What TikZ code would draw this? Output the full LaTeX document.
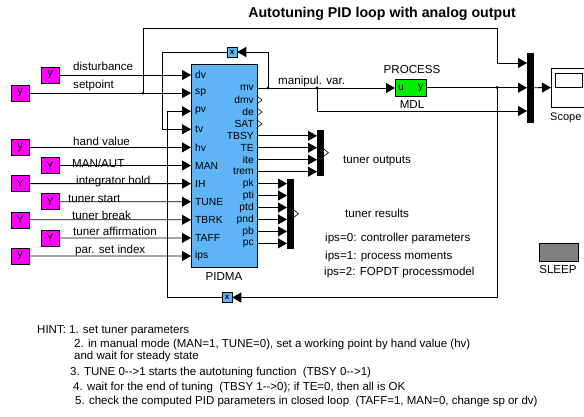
\documentclass[tikz,border=0pt]{standalone}
\usepackage{fontspec}
\setmainfont{Liberation Sans}
\usetikzlibrary{arrows.meta}
\definecolor{srcmag}{RGB}{255,0,255}
\definecolor{blkblue}{RGB}{95,180,245}
\definecolor{procgreen}{RGB}{0,240,0}
\definecolor{sleepgray}{RGB}{128,128,128}
\newcommand\mychev[1]{\draw[line width=0.6pt] (#1) ++(0,-4) -- ++(5,4) -- ++(-5,4);}
\begin{document}
\begin{tikzpicture}[x=1pt,y=-1pt,
  sig/.style={draw=black, line width=0.8pt, -{Triangle[length=9pt,width=10pt]}},
  wire/.style={draw=black, line width=0.8pt},
  src/.style={draw=black, line width=0.5pt, fill=srcmag, minimum width=18pt, minimum height=16pt, inner sep=0pt, font=\fontsize{11}{11}\selectfont},
  lbl/.style={anchor=base west, inner sep=0pt, font=\fontsize{11.6}{12}\selectfont},
  clbl/.style={inner sep=0pt, font=\fontsize{11.6}{12}\selectfont},
  hint/.style={anchor=base west, inner sep=0pt, font=\fontsize{11.5}{12}\selectfont},
  port/.style={inner sep=0pt, font=\fontsize{10.3}{10}\selectfont},
  muxbar/.style={fill=black, draw=black, inner sep=0pt, minimum width=6pt, anchor=north west},
  xblk/.style={draw=black, line width=0.5pt, fill=blkblue, minimum width=10pt, minimum height=10pt, inner sep=0pt, font=\fontsize{8}{8}\bfseries\selectfont},
  dot/.style={fill=black}
]
\useasboundingbox (0,0) rectangle (584,416);
\fill[white] (0,0) rectangle (584,416);

% title
\node[inner sep=0pt, font=\bfseries\fontsize{14.2}{15}\selectfont] (title) at (382,14) {Autotuning PID loop with analog output};

% main block
\node[draw=black, line width=0.5pt, fill=blkblue, minimum width=66pt, minimum height=203pt, inner sep=0pt, anchor=north west] (pid) at (191,64) {};
\node[clbl] (pidlbl) at (224,277) {PIDMA};
\foreach \n [count=\i from 0] in {dv,sp,pv,tv,hv,MAN,IH,TUNE,TBRK,TAFF,ips} {
  \pgfmathsetmacro\yy{75+18.1*\i}
  \coordinate (in\i) at (191,\yy);
  \node[port, anchor=west] (inl\i) at (195,\yy) {\n};
}
\foreach \n [count=\j from 0] in {mv,dmv,de,SAT,TBSY,TE,ite,trem,pk,pti,ptd,pnd,pb,pc} {
  \pgfmathsetmacro\yy{88+11.95*\j}
  \coordinate (out\j) at (257,\yy);
  \node[port, anchor=east] (outl\j) at (254,\yy) {\n};
}

% sources
\node[src] (s0) at (50,75) {y};
\node[src] (s1) at (20,93.1) {y};
\node[src] (s4) at (20,147.4) {y};
\node[src] (s5) at (50,165.5) {Y};
\node[src] (s6) at (20,183.6) {Y};
\node[src] (s7) at (50,201.7) {Y};
\node[src] (s8) at (20,219.8) {Y};
\node[src] (s9) at (50,237.9) {Y};
\node[src] (s10) at (20,256) {y};
\foreach \k in {0,1,4,5,6,7,8,9,10} {
  \draw[sig] (s\k.east) -- (in\k);
}
\node[lbl] (t0) at (73,70) {disturbance};
\node[lbl] (t1) at (73,88) {setpoint};
\node[lbl] (t4) at (73,145) {hand value};
\node[lbl] (t5) at (72,167) {MAN/AUT};
\node[lbl] (t6) at (76,184) {integrator hold};
\node[lbl] (t7) at (68,202) {tuner start};
\node[lbl] (t8) at (72,219) {tuner break};
\node[lbl] (t9) at (73,235) {tuner affirmation};
\node[lbl] (t10) at (75,253) {par. set index};

% multiplier blocks
\node[xblk] (x1) at (232,52) {x};
\node[xblk] (x2) at (227,297.5) {x};

% process
\node[draw=black, line width=0.5pt, fill=procgreen, minimum width=31pt, minimum height=17pt, inner sep=0pt, anchor=north west] (proc) at (395,79) {};
\node[port, anchor=west] (procu) at ([xshift=3pt]proc.west) {u};
\node[port, anchor=east] (procy) at ([xshift=-3pt]proc.east) {y};
\node[clbl] (proclbl) at (412,70) {PROCESS};
\node[clbl] (procmdl) at (412,105) {MDL};
\node[lbl] (mvlbl) at (278,84) {manipul. var.};

% muxes
\node[muxbar, minimum height=69pt] (mux3) at (527,53) {};
\node[muxbar, minimum height=45pt] (mux1) at (317,130) {};
\node[muxbar, minimum height=69pt] (mux2) at (287,179) {};

% scope
\begin{scope}
\clip (0,0) rectangle (584,416);
\draw[line width=0.6pt] (600,68) -- (551,68) -- (551,107) -- (600,107);
\draw[line width=0.6pt] (555,73) rectangle (582,87);
\end{scope}
\coordinate (scopein) at (551,87.5);
\node[anchor=base west, inner sep=0pt, font=\fontsize{11}{12}\selectfont] (scopelbl) at (550,120) {Scope};

% sleep
\node[draw=black, line width=0.5pt, fill=sleepgray, minimum width=39pt, minimum height=18pt, inner sep=0pt, anchor=north west] (sleep) at (539,243) {};
\node[clbl] (sleeplbl) at (558,270) {SLEEP};

% texts
\node[lbl] (tout) at (343,163) {tuner outputs};
\node[lbl] (tres) at (345,217) {tuner results};
\node[lbl] (ips0) at (325,241) {ips=0: controller parameters};
\node[lbl] (ips1) at (325,259) {ips=1: process moments};
\node[lbl] (ips2) at (324,275) {ips=2: FOPDT processmodel};

% junctions
\coordinate (jS) at (143,93.1);
\coordinate (tl) at (143,28);
\coordinate (tr) at (497,28);
\coordinate (jA) at (268,88);
\coordinate (jB) at (317,88);
\coordinate (jC) at (497,87.5);
\coordinate (m3a) at (527,63);
\coordinate (m3c) at (527,111);

% connectors
\draw[sig] (out0) -- (out0 -| proc.west);
\draw[sig] (proc.east) -- (proc.east -| mux3.west);
\draw[sig] (jS) -- (tl) -- (tr) |- (m3a);
\draw[sig] (jB) |- (m3c);
\draw[sig] (mux3.east) -- (scopein);
\draw[sig] (jA) |- (x1.east);
\draw[sig] (x1.west) -| ([xshift=-29pt]in3) -- (in3);
\draw[sig] (jC) |- (x2.east);
\draw[sig] (x2.west) -| ([xshift=-24pt]in2) -- (in2);
\foreach \j in {4,5,6,7} { \draw[sig] (out\j) -- (out\j -| mux1.west); }
\foreach \j in {8,9,10,11,12,13} { \draw[sig] (out\j) -- (out\j -| mux2.west); }
\mychev{out1}
\mychev{out2}
\mychev{out3}
\mychev{mux1.east}
\mychev{mux2.east}
\foreach \c in {jS,jA,jB,jC} { \fill[dot] (\c) circle (1.6pt); }

% hint
\node[hint] (h1) at (37,333) {HINT: 1. set tuner parameters};
\node[hint] (h2) at (74,347) {2. in manual mode (MAN=1, TUNE=0), set a working point by hand value (hv)};
\node[hint] (h2b) at (74,359) {and wait for steady state};
\node[hint] (h3) at (70,375) {3. TUNE 0-{}->1 starts the autotuning function\ \ (TBSY 0-{}->1)};
\node[hint] (h4) at (73,390) {4. wait for the end of tuning\ \ (TBSY 1-{}->0); if TE=0, then all is OK};
\node[hint] (h5) at (75,404) {5. check the computed PID parameters in closed loop\ \ (TAFF=1, MAN=0, change sp or dv)};
\end{tikzpicture}
\end{document}
